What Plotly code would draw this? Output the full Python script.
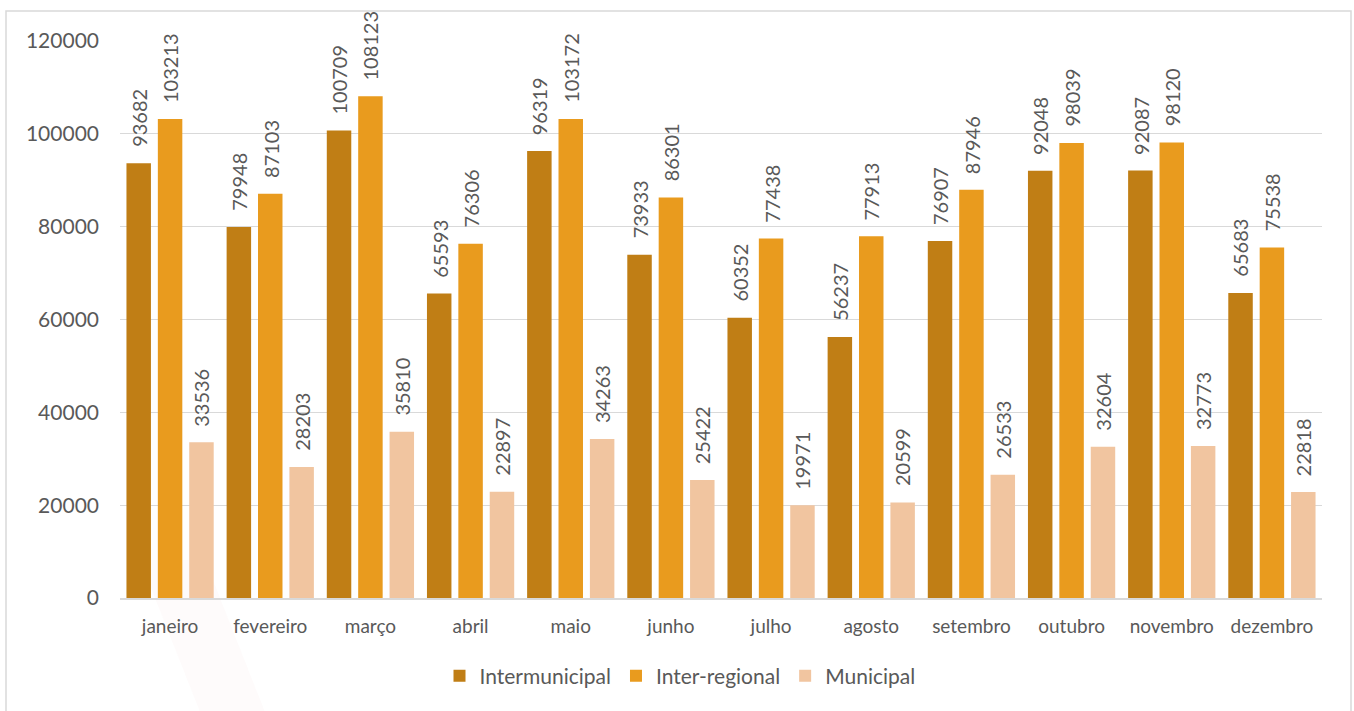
import plotly.graph_objects as go

months = ["janeiro", "fevereiro", "março", "abril", "maio", "junho",
          "julho", "agosto", "setembro", "outubro", "novembro", "dezembro"]
intermunicipal = [93682, 79948, 100709, 65593, 96319, 73933,
                  60352, 56237, 76907, 92048, 92087, 65683]
inter_regional = [103213, 87103, 108123, 76306, 103172, 86301,
                  77438, 77913, 87946, 98039, 98120, 75538]
municipal = [33536, 28203, 35810, 22897, 34263, 25422,
             19971, 20599, 26533, 32604, 32773, 22818]

series = [
    ("Intermunicipal", intermunicipal, "#C07E15"),
    ("Inter-regional", inter_regional, "#E99B1E"),
    ("Municipal", municipal, "#F1C5A0"),
]

FONT = "Lato, 'Open Sans', sans-serif"
GREY = "#595959"

fig = go.Figure()
for i, (name, vals, color) in enumerate(series):
    fig.add_trace(go.Bar(
        name=name, x=months, y=vals, offsetgroup=str(i),
        marker=dict(color=color, line=dict(width=0)),
    ))

L, R, T, B = 120, 32, 41, 113
W, H = 1354, 711
pw, ph = W - L - R, H - T - B

def px(x):
    return (x - L) / pw

def py(y):
    return (H - B - y) / ph

BARGAP, GROUPGAP = 0.06, 0.22
slot = (1 - BARGAP) / len(series)

# rotated value labels above each bar
annotations = []
for i, (name, vals, color) in enumerate(series):
    offset = -(1 - BARGAP) / 2 + slot * (i + 0.5)
    for k, v in enumerate(vals):
        annotations.append(dict(
            x=k + offset, y=v, xref="x", yref="y",
            text=str(v), textangle=-90, showarrow=False,
            xanchor="center", yanchor="bottom", yshift=14,
            font=dict(family=FONT, size=20, color=GREY),
        ))

shapes = [
    # faint diagonal streak in the lower-left background
    dict(type="path", xref="paper", yref="paper", layer="below",
         path=f"M {px(140)} {py(560)} L {px(205)} {py(560)} L {px(265)} {py(712)} L {px(200)} {py(712)} Z",
         fillcolor="rgba(235,150,150,0.04)", line=dict(width=0)),
    # outer frame
    dict(type="rect", xref="paper", yref="paper",
         x0=px(6), x1=px(1351), y0=py(715), y1=py(11),
         line=dict(color="#D9D9D9", width=1.5), fillcolor="rgba(0,0,0,0)"),
]

fig.update_layout(
    width=W, height=H,
    margin=dict(l=L, r=R, t=T, b=B),
    paper_bgcolor="white", plot_bgcolor="white",
    barmode="group", bargap=BARGAP, bargroupgap=GROUPGAP,
    font=dict(family=FONT, size=20, color=GREY),
    showlegend=True,
    legend=dict(orientation="h", x=px(680), xanchor="center",
                y=py(676), yanchor="middle",
                font=dict(family=FONT, size=21, color=GREY),
                itemwidth=30, tracegroupgap=0),
    shapes=shapes,
    annotations=annotations,
    xaxis=dict(type="category", range=[-0.5, 11.5],
               showgrid=False, showline=True, linecolor="#D9D9D9", linewidth=1.5,
               ticks="", tickfont=dict(family=FONT, size=19, color=GREY),
               ticklabelstandoff=10),
    yaxis=dict(range=[0, 120000], dtick=20000, showgrid=True,
               gridcolor="#D9D9D9", gridwidth=1.2, zeroline=False,
               showline=False, ticks="", tickformat="d",
               tickfont=dict(family=FONT, size=21, color=GREY),
               ticklabelstandoff=20),
)

fig.write_html("out.html")
